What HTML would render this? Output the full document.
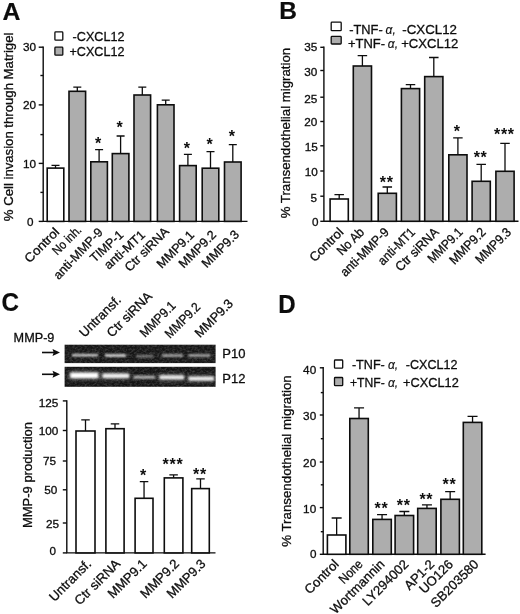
<!DOCTYPE html>
<html><head><meta charset="utf-8"><title>Figure</title>
<style>html,body{margin:0;padding:0;background:#fff}svg{display:block}text{font-family:'Liberation Sans', sans-serif;fill:#0d0d0d}</style>
</head><body>
<svg width="520" height="614" viewBox="0 0 520 614">
<rect width="520" height="614" fill="#fff"/>
<text x="2.50" y="19.60" font-size="24.8" text-anchor="start" font-weight="bold" stroke="#0d0d0d" stroke-width="0.2" >A</text>
<path d="M43.2 46.5V221.4H247.5" stroke="#0d0d0d" stroke-width="1.4" fill="none"/>
<path d="M38.70 47.20H43.2" stroke="#0d0d0d" stroke-width="1.4"/>
<path d="M38.70 104.90H43.2" stroke="#0d0d0d" stroke-width="1.4"/>
<path d="M38.70 163.40H43.2" stroke="#0d0d0d" stroke-width="1.4"/>
<path d="M38.70 221.40H43.2" stroke="#0d0d0d" stroke-width="1.4"/>
<path d="M40.40 75.50H43.2" stroke="#0d0d0d" stroke-width="1.4"/>
<path d="M40.40 134.60H43.2" stroke="#0d0d0d" stroke-width="1.4"/>
<path d="M40.40 192.40H43.2" stroke="#0d0d0d" stroke-width="1.4"/>
<text x="36.00" y="51.45" font-size="11.6" text-anchor="end" textLength="13.1" lengthAdjust="spacingAndGlyphs" stroke="#0d0d0d" stroke-width="0.3" >30</text>
<text x="36.00" y="109.05" font-size="11.6" text-anchor="end" textLength="13.1" lengthAdjust="spacingAndGlyphs" stroke="#0d0d0d" stroke-width="0.3" >20</text>
<text x="36.00" y="167.55" font-size="11.6" text-anchor="end" textLength="13.1" lengthAdjust="spacingAndGlyphs" stroke="#0d0d0d" stroke-width="0.3" >10</text>
<text x="33.60" y="225.65" font-size="11.6" text-anchor="end" textLength="6.5" lengthAdjust="spacingAndGlyphs" stroke="#0d0d0d" stroke-width="0.3" >0</text>
<text x="13.00" y="221.20" font-size="13" text-anchor="start" transform="rotate(-90 13.00 221.20)" textLength="188.6" lengthAdjust="spacingAndGlyphs" stroke="#0d0d0d" stroke-width="0.3" >% Cell invasion through Matrigel</text>
<path d="M55.50 168.30V165.30M51.50 165.30H59.50" stroke="#0d0d0d" stroke-width="1.3" fill="none"/>
<rect x="47.20" y="168.10" width="16.60" height="53.30" fill="#fff" stroke="#0d0d0d" stroke-width="1.6"/>
<text x="60.00" y="233.00" font-size="12.6" text-anchor="end" transform="rotate(-45 60.00 233.00)" textLength="43.0" lengthAdjust="spacingAndGlyphs" stroke="#0d0d0d" stroke-width="0.3" >Control</text>
<path d="M77.30 91.50V87.10M73.30 87.10H81.30" stroke="#0d0d0d" stroke-width="1.3" fill="none"/>
<rect x="69.00" y="91.30" width="16.60" height="130.10" fill="#adadad" stroke="#0d0d0d" stroke-width="1.6"/>
<text x="82.30" y="230.70" font-size="12.6" text-anchor="end" transform="rotate(-45 82.30 230.70)" textLength="35.5" lengthAdjust="spacingAndGlyphs" stroke="#0d0d0d" stroke-width="0.3" >No inh.</text>
<path d="M99.10 162.00V149.70M95.10 149.70H103.10" stroke="#0d0d0d" stroke-width="1.3" fill="none"/>
<rect x="90.80" y="161.80" width="16.60" height="59.60" fill="#adadad" stroke="#0d0d0d" stroke-width="1.6"/>
<text x="98.50" y="148.96" font-size="16" text-anchor="middle" font-weight="bold" letter-spacing="0.7">*</text>
<text x="103.50" y="233.00" font-size="12.6" text-anchor="end" transform="rotate(-46.5 103.50 233.00)" stroke="#0d0d0d" stroke-width="0.3" >anti-MMP-9</text>
<path d="M120.60 153.80V136.00M116.60 136.00H124.60" stroke="#0d0d0d" stroke-width="1.3" fill="none"/>
<rect x="112.30" y="153.60" width="16.60" height="67.80" fill="#adadad" stroke="#0d0d0d" stroke-width="1.6"/>
<text x="120.00" y="132.96" font-size="16" text-anchor="middle" font-weight="bold" letter-spacing="0.7">*</text>
<text x="124.30" y="236.00" font-size="12.6" text-anchor="end" transform="rotate(-42.5 124.30 236.00)" textLength="40.0" lengthAdjust="spacingAndGlyphs" stroke="#0d0d0d" stroke-width="0.3" >TIMP-1</text>
<path d="M142.30 95.20V87.10M138.30 87.10H146.30" stroke="#0d0d0d" stroke-width="1.3" fill="none"/>
<rect x="134.00" y="95.00" width="16.60" height="126.40" fill="#adadad" stroke="#0d0d0d" stroke-width="1.6"/>
<text x="146.00" y="236.00" font-size="12.6" text-anchor="end" transform="rotate(-42.5 146.00 236.00)" textLength="50.5" lengthAdjust="spacingAndGlyphs" stroke="#0d0d0d" stroke-width="0.3" >anti-MT1</text>
<path d="M165.70 105.00V100.20M161.70 100.20H169.70" stroke="#0d0d0d" stroke-width="1.3" fill="none"/>
<rect x="157.40" y="104.80" width="16.60" height="116.60" fill="#adadad" stroke="#0d0d0d" stroke-width="1.6"/>
<text x="169.80" y="232.20" font-size="12.6" text-anchor="end" transform="rotate(-45 169.80 232.20)" textLength="56.5" lengthAdjust="spacingAndGlyphs" stroke="#0d0d0d" stroke-width="0.3" >Ctr siRNA</text>
<path d="M187.90 165.80V154.40M183.90 154.40H191.90" stroke="#0d0d0d" stroke-width="1.3" fill="none"/>
<rect x="179.60" y="165.60" width="16.60" height="55.80" fill="#adadad" stroke="#0d0d0d" stroke-width="1.6"/>
<text x="187.30" y="153.96" font-size="16" text-anchor="middle" font-weight="bold" letter-spacing="0.7">*</text>
<text x="195.00" y="235.80" font-size="12.6" text-anchor="end" transform="rotate(-45 195.00 235.80)" stroke="#0d0d0d" stroke-width="0.3" >MMP9.1</text>
<path d="M210.50 168.40V151.70M206.50 151.70H214.50" stroke="#0d0d0d" stroke-width="1.3" fill="none"/>
<rect x="202.20" y="168.20" width="16.60" height="53.20" fill="#adadad" stroke="#0d0d0d" stroke-width="1.6"/>
<text x="209.90" y="149.96" font-size="16" text-anchor="middle" font-weight="bold" letter-spacing="0.7">*</text>
<text x="217.00" y="235.60" font-size="12.6" text-anchor="end" transform="rotate(-45 217.00 235.60)" stroke="#0d0d0d" stroke-width="0.3" >MMP9.2</text>
<path d="M232.80 162.20V144.70M228.80 144.70H236.80" stroke="#0d0d0d" stroke-width="1.3" fill="none"/>
<rect x="224.50" y="162.00" width="16.60" height="59.40" fill="#adadad" stroke="#0d0d0d" stroke-width="1.6"/>
<text x="232.20" y="141.96" font-size="16" text-anchor="middle" font-weight="bold" letter-spacing="0.7">*</text>
<text x="240.00" y="235.30" font-size="12.6" text-anchor="end" transform="rotate(-45 240.00 235.30)" textLength="46.9" lengthAdjust="spacingAndGlyphs" stroke="#0d0d0d" stroke-width="0.3" >MMP9.3</text>
<rect x="54.9" y="31.9" width="7.9" height="8.3" rx="0.8" fill="#fff" stroke="#0d0d0d" stroke-width="1.3"/>
<rect x="54.9" y="47.2" width="7.9" height="8.0" rx="0.8" fill="#adadad" stroke="#0d0d0d" stroke-width="1.3"/>
<text x="72.60" y="40.80" font-size="12.6" text-anchor="start" textLength="51.9" lengthAdjust="spacingAndGlyphs" stroke="#0d0d0d" stroke-width="0.3" >-CXCL12</text>
<text x="69.50" y="55.50" font-size="12.6" text-anchor="start" textLength="55.0" lengthAdjust="spacingAndGlyphs" stroke="#0d0d0d" stroke-width="0.3" >+CXCL12</text>
<text x="279.20" y="19.30" font-size="24.5" text-anchor="start" font-weight="bold" stroke="#0d0d0d" stroke-width="0.2" >B</text>
<path d="M323.9 46.599999999999994V221.3H518.5" stroke="#0d0d0d" stroke-width="1.4" fill="none"/>
<path d="M320.30 47.30H323.9" stroke="#0d0d0d" stroke-width="1.4"/>
<path d="M320.30 70.50H323.9" stroke="#0d0d0d" stroke-width="1.4"/>
<path d="M320.30 97.20H323.9" stroke="#0d0d0d" stroke-width="1.4"/>
<path d="M320.30 121.50H323.9" stroke="#0d0d0d" stroke-width="1.4"/>
<path d="M320.30 145.80H323.9" stroke="#0d0d0d" stroke-width="1.4"/>
<path d="M320.30 171.00H323.9" stroke="#0d0d0d" stroke-width="1.4"/>
<path d="M320.30 196.20H323.9" stroke="#0d0d0d" stroke-width="1.4"/>
<path d="M320.30 221.30H323.9" stroke="#0d0d0d" stroke-width="1.4"/>
<text x="317.30" y="51.15" font-size="11.6" text-anchor="end" textLength="13.1" lengthAdjust="spacingAndGlyphs" stroke="#0d0d0d" stroke-width="0.3" >35</text>
<text x="317.30" y="75.85" font-size="11.6" text-anchor="end" textLength="13.1" lengthAdjust="spacingAndGlyphs" stroke="#0d0d0d" stroke-width="0.3" >30</text>
<text x="317.30" y="102.65" font-size="11.6" text-anchor="end" textLength="13.1" lengthAdjust="spacingAndGlyphs" stroke="#0d0d0d" stroke-width="0.3" >25</text>
<text x="317.30" y="126.15" font-size="11.6" text-anchor="end" textLength="13.1" lengthAdjust="spacingAndGlyphs" stroke="#0d0d0d" stroke-width="0.3" >20</text>
<text x="317.80" y="150.85" font-size="11.6" text-anchor="end" textLength="13.1" lengthAdjust="spacingAndGlyphs" stroke="#0d0d0d" stroke-width="0.3" >15</text>
<text x="317.80" y="175.95" font-size="11.6" text-anchor="end" textLength="13.1" lengthAdjust="spacingAndGlyphs" stroke="#0d0d0d" stroke-width="0.3" >10</text>
<text x="316.90" y="202.45" font-size="11.6" text-anchor="end" textLength="6.5" lengthAdjust="spacingAndGlyphs" stroke="#0d0d0d" stroke-width="0.3" >5</text>
<text x="318.40" y="225.65" font-size="11.6" text-anchor="end" textLength="6.5" lengthAdjust="spacingAndGlyphs" stroke="#0d0d0d" stroke-width="0.3" >0</text>
<text x="289.90" y="218.30" font-size="13" text-anchor="start" transform="rotate(-90 289.90 218.30)" textLength="170.4" lengthAdjust="spacingAndGlyphs" stroke="#0d0d0d" stroke-width="0.3" >% Transendothelial migration</text>
<path d="M339.20 199.20V194.60M334.45 194.60H343.95" stroke="#0d0d0d" stroke-width="1.3" fill="none"/>
<rect x="330.10" y="199.00" width="18.20" height="22.30" fill="#fff" stroke="#0d0d0d" stroke-width="1.6"/>
<text x="344.20" y="233.00" font-size="13" text-anchor="end" transform="rotate(-45 344.20 233.00)" textLength="41.8" lengthAdjust="spacingAndGlyphs" stroke="#0d0d0d" stroke-width="0.3" >Control</text>
<path d="M362.40 66.20V55.70M357.65 55.70H367.15" stroke="#0d0d0d" stroke-width="1.3" fill="none"/>
<rect x="353.30" y="66.00" width="18.20" height="155.30" fill="#adadad" stroke="#0d0d0d" stroke-width="1.6"/>
<text x="365.00" y="233.00" font-size="13" text-anchor="end" transform="rotate(-45 365.00 233.00)" textLength="32.5" lengthAdjust="spacingAndGlyphs" stroke="#0d0d0d" stroke-width="0.3" >No Ab</text>
<path d="M387.30 193.50V187.00M382.55 187.00H392.05" stroke="#0d0d0d" stroke-width="1.3" fill="none"/>
<rect x="378.20" y="193.30" width="18.20" height="28.00" fill="#adadad" stroke="#0d0d0d" stroke-width="1.6"/>
<text x="386.70" y="187.56" font-size="16" text-anchor="middle" font-weight="bold" letter-spacing="0.7">**</text>
<text x="389.70" y="233.00" font-size="13" text-anchor="end" transform="rotate(-45 389.70 233.00)" textLength="62.5" lengthAdjust="spacingAndGlyphs" stroke="#0d0d0d" stroke-width="0.3" >anti-MMP-9</text>
<path d="M410.50 88.80V84.60M405.75 84.60H415.25" stroke="#0d0d0d" stroke-width="1.3" fill="none"/>
<rect x="401.40" y="88.60" width="18.20" height="132.70" fill="#adadad" stroke="#0d0d0d" stroke-width="1.6"/>
<text x="415.90" y="233.00" font-size="13" text-anchor="end" transform="rotate(-45 415.90 233.00)" textLength="46.5" lengthAdjust="spacingAndGlyphs" stroke="#0d0d0d" stroke-width="0.3" >anti-MT1</text>
<path d="M433.80 76.80V57.50M429.05 57.50H438.55" stroke="#0d0d0d" stroke-width="1.3" fill="none"/>
<rect x="424.70" y="76.60" width="18.20" height="144.70" fill="#adadad" stroke="#0d0d0d" stroke-width="1.6"/>
<text x="439.50" y="233.00" font-size="13" text-anchor="end" transform="rotate(-45 439.50 233.00)" textLength="55.0" lengthAdjust="spacingAndGlyphs" stroke="#0d0d0d" stroke-width="0.3" >Ctr siRNA</text>
<path d="M457.90 155.00V137.90M453.15 137.90H462.65" stroke="#0d0d0d" stroke-width="1.3" fill="none"/>
<rect x="448.80" y="154.80" width="18.20" height="66.50" fill="#adadad" stroke="#0d0d0d" stroke-width="1.6"/>
<text x="457.30" y="137.26" font-size="16" text-anchor="middle" font-weight="bold" letter-spacing="0.7">*</text>
<text x="463.50" y="233.00" font-size="13" text-anchor="end" transform="rotate(-45 463.50 233.00)" textLength="43.5" lengthAdjust="spacingAndGlyphs" stroke="#0d0d0d" stroke-width="0.3" >MMP9.1</text>
<path d="M481.20 181.50V164.40M476.45 164.40H485.95" stroke="#0d0d0d" stroke-width="1.3" fill="none"/>
<rect x="472.10" y="181.30" width="18.20" height="40.00" fill="#adadad" stroke="#0d0d0d" stroke-width="1.6"/>
<text x="480.60" y="163.46" font-size="16" text-anchor="middle" font-weight="bold" letter-spacing="0.7">**</text>
<text x="486.60" y="233.00" font-size="13" text-anchor="end" transform="rotate(-45 486.60 233.00)" textLength="45.5" lengthAdjust="spacingAndGlyphs" stroke="#0d0d0d" stroke-width="0.3" >MMP9.2</text>
<path d="M505.00 171.50V143.30M500.25 143.30H509.75" stroke="#0d0d0d" stroke-width="1.3" fill="none"/>
<rect x="495.90" y="171.30" width="18.20" height="50.00" fill="#adadad" stroke="#0d0d0d" stroke-width="1.6"/>
<text x="504.40" y="140.26" font-size="16" text-anchor="middle" font-weight="bold" letter-spacing="0.7">***</text>
<text x="512.00" y="233.00" font-size="13" text-anchor="end" transform="rotate(-45 512.00 233.00)" textLength="44.5" lengthAdjust="spacingAndGlyphs" stroke="#0d0d0d" stroke-width="0.3" >MMP9.3</text>
<rect x="331.2" y="22.2" width="10" height="8.5" rx="0.8" fill="#fff" stroke="#0d0d0d" stroke-width="1.3"/>
<rect x="331.2" y="36.4" width="10" height="7.6" rx="0.8" fill="#adadad" stroke="#0d0d0d" stroke-width="1.3"/>
<text x="349.20" y="34.40" font-size="13" text-anchor="start" textLength="33.5" lengthAdjust="spacingAndGlyphs" stroke="#0d0d0d" stroke-width="0.3" >-TNF-</text>
<text x="385.60" y="34.40" font-size="12" text-anchor="start" stroke="#0d0d0d" stroke-width="0.15" font-style="italic">α,</text>
<text x="402.30" y="34.40" font-size="13" text-anchor="start" textLength="54.7" lengthAdjust="spacingAndGlyphs" stroke="#0d0d0d" stroke-width="0.3" >-CXCL12</text>
<text x="347.90" y="48.30" font-size="13" text-anchor="start" textLength="37.1" lengthAdjust="spacingAndGlyphs" stroke="#0d0d0d" stroke-width="0.3" >+TNF-</text>
<text x="387.80" y="48.30" font-size="12" text-anchor="start" stroke="#0d0d0d" stroke-width="0.15" font-style="italic">α,</text>
<text x="401.20" y="48.30" font-size="13" text-anchor="start" textLength="57.1" lengthAdjust="spacingAndGlyphs" stroke="#0d0d0d" stroke-width="0.3" >+CXCL12</text>
<text x="1.60" y="311.40" font-size="25.7" text-anchor="start" font-weight="bold" textLength="17.5" lengthAdjust="spacingAndGlyphs" stroke="#0d0d0d" stroke-width="0.2" >C</text>
<text x="13.60" y="342.40" font-size="13" text-anchor="start" textLength="40.8" lengthAdjust="spacingAndGlyphs" stroke="#0d0d0d" stroke-width="0.3" >MMP-9</text>
<text x="84.60" y="338.00" font-size="13" text-anchor="start" transform="rotate(-45 84.60 338.00)" stroke="#0d0d0d" stroke-width="0.3" >Untransf.</text>
<text x="112.00" y="337.90" font-size="13" text-anchor="start" transform="rotate(-45 112.00 337.90)" stroke="#0d0d0d" stroke-width="0.3" >Ctr siRNA</text>
<text x="145.00" y="338.00" font-size="13" text-anchor="start" transform="rotate(-45 145.00 338.00)" textLength="44.5" lengthAdjust="spacingAndGlyphs" stroke="#0d0d0d" stroke-width="0.3" >MMP9.1</text>
<text x="170.00" y="339.00" font-size="13" text-anchor="start" transform="rotate(-45 170.00 339.00)" textLength="44.0" lengthAdjust="spacingAndGlyphs" stroke="#0d0d0d" stroke-width="0.3" >MMP9.2</text>
<text x="200.00" y="338.30" font-size="13" text-anchor="start" transform="rotate(-45 200.00 338.30)" textLength="48.0" lengthAdjust="spacingAndGlyphs" stroke="#0d0d0d" stroke-width="0.3" >MMP9.3</text>
<defs><filter id="bl" x="-20%" y="-150%" width="140%" height="400%"><feGaussianBlur stdDeviation="1.1 0.8"/></filter><filter id="gl" x="-20%" y="-150%" width="140%" height="400%"><feGaussianBlur stdDeviation="2.2 2"/></filter><filter id="nz" x="0" y="0" width="100%" height="100%"><feTurbulence type="fractalNoise" baseFrequency="0.4 0.55" numOctaves="2" seed="7"/><feColorMatrix type="matrix" values="0 0 0 0 1  0 0 0 0 1  0 0 0 0 1  1.1 0 0 0 -0.42"/></filter></defs>
<rect x="64.6" y="344.7" width="151" height="18.4" fill="#161616"/>
<rect x="64.6" y="366.8" width="151" height="20" fill="#131313"/>
<rect x="64.6" y="344.7" width="151" height="18.4" fill="#fff" filter="url(#nz)" opacity="0.36"/>
<rect x="64.6" y="366.8" width="151" height="20" fill="#fff" filter="url(#nz)" opacity="0.36"/>
<rect x="72" y="354.0" width="26" height="2.4" fill="#eee" opacity="0.9" filter="url(#bl)"/>
<rect x="105" y="354.3" width="21" height="2.4" fill="#fff" opacity="0.95" filter="url(#bl)"/>
<rect x="136" y="355.3" width="17.5" height="2" fill="#ccc" opacity="0.7" filter="url(#bl)"/>
<rect x="162" y="354.35" width="21" height="2.3" fill="#ddd" opacity="0.85" filter="url(#bl)"/>
<rect x="188.5" y="354.35" width="22.0" height="2.3" fill="#ddd" opacity="0.85" filter="url(#bl)"/>
<rect x="69" y="372.0" width="31" height="7" fill="#fff" opacity="0.45" filter="url(#gl)"/>
<rect x="102" y="373.0" width="28" height="6" fill="#fff" opacity="0.35" filter="url(#gl)"/>
<rect x="158" y="374.5" width="27" height="6" fill="#fff" opacity="0.3" filter="url(#gl)"/>
<rect x="188" y="375.5" width="26" height="6" fill="#fff" opacity="0.3" filter="url(#gl)"/>
<rect x="70.5" y="372.79999999999995" width="27.5" height="5.2" fill="#fff" opacity="1" filter="url(#bl)"/>
<rect x="102.5" y="373.6" width="26.5" height="4.4" fill="#fff" opacity="0.9" filter="url(#bl)"/>
<rect x="133.5" y="375.5" width="21.5" height="3.4" fill="#ddd" opacity="0.75" filter="url(#bl)"/>
<rect x="159.5" y="375.3" width="24.5" height="4.0" fill="#fff" opacity="0.88" filter="url(#bl)"/>
<rect x="188.5" y="376.6" width="25.5" height="4.0" fill="#fff" opacity="0.9" filter="url(#bl)"/>
<path d="M42 352.5H56" stroke="#0d0d0d" stroke-width="1.6"/><path d="M60 352.5L52.5 349.0L53.7 352.5L52.5 356.0Z" fill="#0d0d0d"/>
<path d="M42 374.3H56" stroke="#0d0d0d" stroke-width="1.6"/><path d="M60 374.3L52.5 370.8L53.7 374.3L52.5 377.8Z" fill="#0d0d0d"/>
<text x="222.30" y="358.00" font-size="13" text-anchor="start" stroke="#0d0d0d" stroke-width="0.3" >P10</text>
<text x="222.30" y="382.50" font-size="13" text-anchor="start" stroke="#0d0d0d" stroke-width="0.3" >P12</text>
<path d="M66.8 400.2V552.9H215.5" stroke="#0d0d0d" stroke-width="1.4" fill="none"/>
<path d="M62.80 400.90H66.8" stroke="#0d0d0d" stroke-width="1.4"/>
<path d="M62.80 430.50H66.8" stroke="#0d0d0d" stroke-width="1.4"/>
<path d="M62.80 461.00H66.8" stroke="#0d0d0d" stroke-width="1.4"/>
<path d="M62.80 489.80H66.8" stroke="#0d0d0d" stroke-width="1.4"/>
<path d="M62.80 523.00H66.8" stroke="#0d0d0d" stroke-width="1.4"/>
<path d="M62.80 552.90H66.8" stroke="#0d0d0d" stroke-width="1.4"/>
<text x="58.40" y="407.45" font-size="11.6" text-anchor="end" textLength="19.6" lengthAdjust="spacingAndGlyphs" stroke="#0d0d0d" stroke-width="0.3" >125</text>
<text x="58.40" y="434.65" font-size="11.6" text-anchor="end" textLength="19.6" lengthAdjust="spacingAndGlyphs" stroke="#0d0d0d" stroke-width="0.3" >100</text>
<text x="56.00" y="465.45" font-size="11.6" text-anchor="end" textLength="13.1" lengthAdjust="spacingAndGlyphs" stroke="#0d0d0d" stroke-width="0.3" >75</text>
<text x="57.40" y="494.35" font-size="11.6" text-anchor="end" textLength="13.1" lengthAdjust="spacingAndGlyphs" stroke="#0d0d0d" stroke-width="0.3" >50</text>
<text x="59.00" y="527.65" font-size="11.6" text-anchor="end" textLength="13.1" lengthAdjust="spacingAndGlyphs" stroke="#0d0d0d" stroke-width="0.3" >25</text>
<text x="55.90" y="555.15" font-size="11.6" text-anchor="end" textLength="6.5" lengthAdjust="spacingAndGlyphs" stroke="#0d0d0d" stroke-width="0.3" >0</text>
<text x="31.60" y="528.00" font-size="13" text-anchor="start" transform="rotate(-90 31.60 528.00)" textLength="106.0" lengthAdjust="spacingAndGlyphs" stroke="#0d0d0d" stroke-width="0.3" >MMP-9 production</text>
<path d="M85.50 431.20V419.80M81.25 419.80H89.75" stroke="#0d0d0d" stroke-width="1.3" fill="none"/>
<rect x="76.00" y="431.00" width="19.00" height="121.90" fill="#fff" stroke="#0d0d0d" stroke-width="1.6"/>
<text x="92.00" y="564.60" font-size="13.1" text-anchor="end" transform="rotate(-45 92.00 564.60)" stroke="#0d0d0d" stroke-width="0.3" >Untransf.</text>
<path d="M115.00 428.90V423.90M110.75 423.90H119.25" stroke="#0d0d0d" stroke-width="1.3" fill="none"/>
<rect x="105.90" y="428.70" width="18.20" height="124.20" fill="#fff" stroke="#0d0d0d" stroke-width="1.6"/>
<text x="121.00" y="564.60" font-size="13.1" text-anchor="end" transform="rotate(-45 121.00 564.60)" stroke="#0d0d0d" stroke-width="0.3" >Ctr siRNA</text>
<path d="M144.05 498.50V481.60M139.80 481.60H148.30" stroke="#0d0d0d" stroke-width="1.3" fill="none"/>
<rect x="135.10" y="498.30" width="17.90" height="54.60" fill="#fff" stroke="#0d0d0d" stroke-width="1.6"/>
<text x="143.45" y="481.36" font-size="16" text-anchor="middle" font-weight="bold" letter-spacing="0.7">*</text>
<text x="147.55" y="564.60" font-size="13.1" text-anchor="end" transform="rotate(-45 147.55 564.60)" stroke="#0d0d0d" stroke-width="0.3" >MMP9.1</text>
<path d="M173.60 478.10V474.90M169.35 474.90H177.85" stroke="#0d0d0d" stroke-width="1.3" fill="none"/>
<rect x="164.30" y="477.90" width="18.60" height="75.00" fill="#fff" stroke="#0d0d0d" stroke-width="1.6"/>
<text x="173.00" y="470.06" font-size="16" text-anchor="middle" font-weight="bold" letter-spacing="0.7">***</text>
<text x="179.90" y="564.60" font-size="13.1" text-anchor="end" transform="rotate(-45 179.90 564.60)" stroke="#0d0d0d" stroke-width="0.3" >MMP9.2</text>
<path d="M200.50 488.80V478.80M196.25 478.80H204.75" stroke="#0d0d0d" stroke-width="1.3" fill="none"/>
<rect x="191.70" y="488.60" width="17.60" height="64.30" fill="#fff" stroke="#0d0d0d" stroke-width="1.6"/>
<text x="199.90" y="479.96" font-size="16" text-anchor="middle" font-weight="bold" letter-spacing="0.7">**</text>
<text x="206.50" y="564.60" font-size="13.1" text-anchor="end" transform="rotate(-45 206.50 564.60)" stroke="#0d0d0d" stroke-width="0.3" >MMP9.3</text>
<text x="278.30" y="312.70" font-size="25.5" text-anchor="start" font-weight="bold" textLength="17.4" lengthAdjust="spacingAndGlyphs" stroke="#0d0d0d" stroke-width="0.2" >D</text>
<path d="M323.2 367.1V554.3H485.6" stroke="#0d0d0d" stroke-width="1.4" fill="none"/>
<path d="M319.80 367.80H323.2" stroke="#0d0d0d" stroke-width="1.4"/>
<path d="M319.80 415.00H323.2" stroke="#0d0d0d" stroke-width="1.4"/>
<path d="M319.80 462.00H323.2" stroke="#0d0d0d" stroke-width="1.4"/>
<path d="M319.80 507.60H323.2" stroke="#0d0d0d" stroke-width="1.4"/>
<path d="M319.80 554.30H323.2" stroke="#0d0d0d" stroke-width="1.4"/>
<path d="M320.80 392.60H323.2" stroke="#0d0d0d" stroke-width="1.4"/>
<path d="M320.80 438.70H323.2" stroke="#0d0d0d" stroke-width="1.4"/>
<path d="M320.80 484.80H323.2" stroke="#0d0d0d" stroke-width="1.4"/>
<path d="M320.80 531.70H323.2" stroke="#0d0d0d" stroke-width="1.4"/>
<text x="316.20" y="374.25" font-size="11.6" text-anchor="end" textLength="13.1" lengthAdjust="spacingAndGlyphs" stroke="#0d0d0d" stroke-width="0.3" >40</text>
<text x="316.20" y="419.85" font-size="11.6" text-anchor="end" textLength="13.1" lengthAdjust="spacingAndGlyphs" stroke="#0d0d0d" stroke-width="0.3" >30</text>
<text x="316.20" y="467.45" font-size="11.6" text-anchor="end" textLength="13.1" lengthAdjust="spacingAndGlyphs" stroke="#0d0d0d" stroke-width="0.3" >20</text>
<text x="316.20" y="513.05" font-size="11.6" text-anchor="end" textLength="13.1" lengthAdjust="spacingAndGlyphs" stroke="#0d0d0d" stroke-width="0.3" >10</text>
<text x="316.50" y="558.25" font-size="11.6" text-anchor="end" textLength="6.5" lengthAdjust="spacingAndGlyphs" stroke="#0d0d0d" stroke-width="0.3" >0</text>
<text x="291.20" y="546.80" font-size="13" text-anchor="start" transform="rotate(-90 291.20 546.80)" textLength="171.5" lengthAdjust="spacingAndGlyphs" stroke="#0d0d0d" stroke-width="0.3" >% Transendothelial migration</text>
<path d="M336.65 535.20V518.00M331.65 518.00H341.65" stroke="#0d0d0d" stroke-width="1.3" fill="none"/>
<rect x="327.40" y="535.00" width="18.50" height="19.30" fill="#fff" stroke="#0d0d0d" stroke-width="1.6"/>
<text x="339.65" y="565.00" font-size="13.1" text-anchor="end" transform="rotate(-45 339.65 565.00)" stroke="#0d0d0d" stroke-width="0.3" >Control</text>
<path d="M359.05 418.70V407.80M354.05 407.80H364.05" stroke="#0d0d0d" stroke-width="1.3" fill="none"/>
<rect x="349.80" y="418.50" width="18.50" height="135.80" fill="#adadad" stroke="#0d0d0d" stroke-width="1.6"/>
<text x="363.55" y="565.00" font-size="13.1" text-anchor="end" transform="rotate(-45 363.55 565.00)" textLength="27.5" lengthAdjust="spacingAndGlyphs" stroke="#0d0d0d" stroke-width="0.3" >None</text>
<path d="M382.05 519.60V514.70M377.05 514.70H387.05" stroke="#0d0d0d" stroke-width="1.3" fill="none"/>
<rect x="372.80" y="519.40" width="18.50" height="34.90" fill="#adadad" stroke="#0d0d0d" stroke-width="1.6"/>
<text x="381.45" y="514.46" font-size="16" text-anchor="middle" font-weight="bold" letter-spacing="0.7">**</text>
<text x="385.35" y="565.00" font-size="13.1" text-anchor="end" transform="rotate(-45 385.35 565.00)" stroke="#0d0d0d" stroke-width="0.3" >Wortmannin</text>
<path d="M404.35 515.70V511.50M399.35 511.50H409.35" stroke="#0d0d0d" stroke-width="1.3" fill="none"/>
<rect x="395.10" y="515.50" width="18.50" height="38.80" fill="#adadad" stroke="#0d0d0d" stroke-width="1.6"/>
<text x="403.75" y="510.56" font-size="16" text-anchor="middle" font-weight="bold" letter-spacing="0.7">**</text>
<text x="409.35" y="565.00" font-size="13.1" text-anchor="end" transform="rotate(-45 409.35 565.00)" stroke="#0d0d0d" stroke-width="0.3" >LY294002</text>
<path d="M426.95 508.60V504.80M421.95 504.80H431.95" stroke="#0d0d0d" stroke-width="1.3" fill="none"/>
<rect x="417.70" y="508.40" width="18.50" height="45.90" fill="#adadad" stroke="#0d0d0d" stroke-width="1.6"/>
<text x="426.35" y="504.86" font-size="16" text-anchor="middle" font-weight="bold" letter-spacing="0.7">**</text>
<text x="435.25" y="565.00" font-size="13.1" text-anchor="end" transform="rotate(-45 435.25 565.00)" stroke="#0d0d0d" stroke-width="0.3" >AP1-2</text>
<path d="M450.15 499.50V491.70M445.15 491.70H455.15" stroke="#0d0d0d" stroke-width="1.3" fill="none"/>
<rect x="440.90" y="499.30" width="18.50" height="55.00" fill="#adadad" stroke="#0d0d0d" stroke-width="1.6"/>
<text x="449.55" y="490.26" font-size="16" text-anchor="middle" font-weight="bold" letter-spacing="0.7">**</text>
<text x="453.85" y="565.00" font-size="13.1" text-anchor="end" transform="rotate(-45 453.85 565.00)" stroke="#0d0d0d" stroke-width="0.3" >UO126</text>
<path d="M472.55 422.60V416.40M467.55 416.40H477.55" stroke="#0d0d0d" stroke-width="1.3" fill="none"/>
<rect x="463.30" y="422.40" width="18.50" height="131.90" fill="#adadad" stroke="#0d0d0d" stroke-width="1.6"/>
<text x="479.35" y="565.00" font-size="13.1" text-anchor="end" transform="rotate(-45 479.35 565.00)" stroke="#0d0d0d" stroke-width="0.3" >SB203580</text>
<rect x="334.5" y="360" width="8.2" height="8.2" rx="0.8" fill="#fff" stroke="#0d0d0d" stroke-width="1.3"/>
<rect x="334.5" y="377.5" width="8.2" height="8.2" rx="0.8" fill="#adadad" stroke="#0d0d0d" stroke-width="1.3"/>
<text x="351.90" y="369.40" font-size="13" text-anchor="start" textLength="32.9" lengthAdjust="spacingAndGlyphs" stroke="#0d0d0d" stroke-width="0.3" >-TNF-</text>
<text x="388.00" y="369.40" font-size="12" text-anchor="start" stroke="#0d0d0d" stroke-width="0.15" font-style="italic">α,</text>
<text x="405.80" y="369.40" font-size="13" text-anchor="start" textLength="51.7" lengthAdjust="spacingAndGlyphs" stroke="#0d0d0d" stroke-width="0.3" >-CXCL12</text>
<text x="350.00" y="387.20" font-size="13" text-anchor="start" textLength="34.8" lengthAdjust="spacingAndGlyphs" stroke="#0d0d0d" stroke-width="0.3" >+TNF-</text>
<text x="388.00" y="387.20" font-size="12" text-anchor="start" stroke="#0d0d0d" stroke-width="0.15" font-style="italic">α,</text>
<text x="403.10" y="387.20" font-size="13" text-anchor="start" textLength="55.7" lengthAdjust="spacingAndGlyphs" stroke="#0d0d0d" stroke-width="0.3" >+CXCL12</text>
</svg>
</body></html>
